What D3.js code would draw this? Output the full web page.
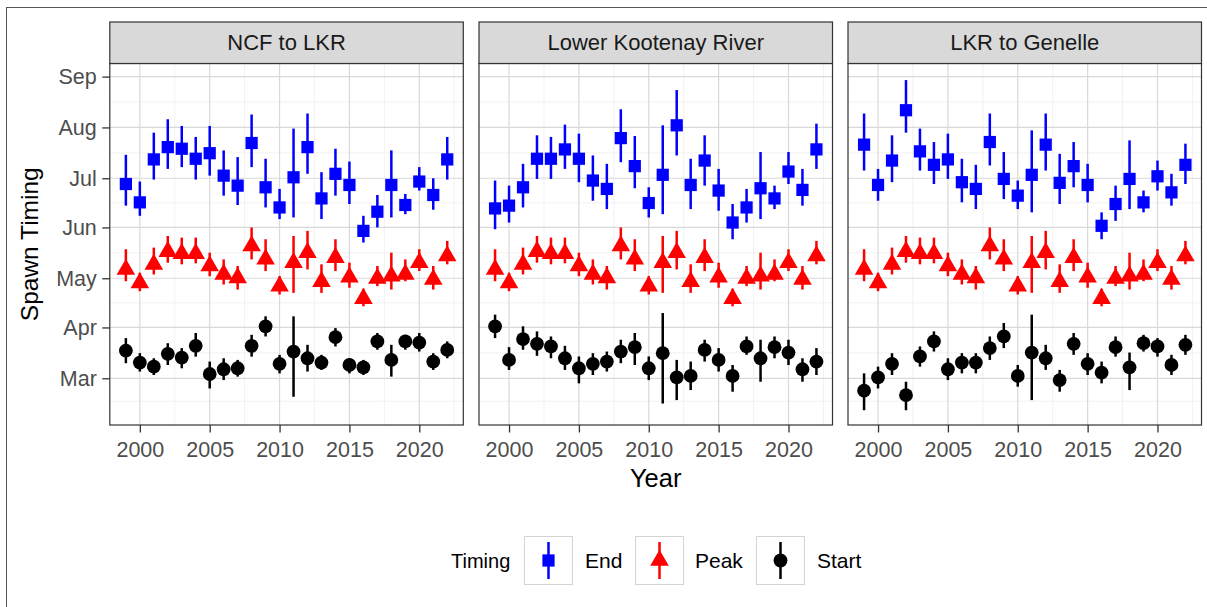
<!DOCTYPE html>
<html>
<head>
<meta charset="utf-8">
<script src="https://cdn.jsdelivr.net/npm/d3@7"></script>
<style>
  html, body { margin: 0; padding: 0; background: #fff; }
  svg { display: block; font-family: "Liberation Sans", Arial, Helvetica, sans-serif; }
</style>
</head>
<body>
<svg id="chart" width="1207" height="607"></svg>
<script>
// Spawn timing by reach: day of year for start, peak and end of spawning,
// each as [estimate, lower, upper].
const years = d3.range(1999, 2023);

const reaches = ["NCF to LKR", "Lower Kootenay River", "LKR to Genelle"];

const timings = ["End", "Peak", "Start"];

const monthLabels = ["Mar", "Apr", "May", "Jun", "Jul", "Aug", "Sep"];
const monthStarts = [60, 91, 121, 152, 182, 213, 244];
const yearTicks = [2000, 2005, 2010, 2015, 2020];

// Peak timing (shared by all three reaches)
const peak = [
  [126.4,138.7,119.2],[118.2,124.4,113.1],[129.5,139.7,123.3],[137.3,146.8,130.5],
  [136.0,145.8,129.5],[136.0,145.8,130.1],[128.5,136.6,122.3],[123.4,132.5,117.2],
  [121.3,128.5,114.1],[140.7,152.0,132.5],[132.6,144.8,125.4],[116.2,122.3,111.1],
  [130.5,146.8,112.1],[136.6,149.9,126.4],[118.9,129.5,112.1],[133.6,144.8,125.4],
  [121.7,130.5,115.2],[108.6,114.6,103.9],[120.9,128.5,116.2],[122.3,136.6,114.1],
  [123.4,132.5,119.2],[130.5,138.7,125.4],[120.3,128.5,114.1],[134.6,143.8,129.5]
];

// NCF to LKR
const ncfEnd = [
  [178.5,165.3,196.3],[167.3,159.1,180.0],[193.5,181.2,209.8],[201.0,187.7,218.0],
  [200.0,188.8,213.9],[193.9,181.2,207.2],[197.3,183.6,213.9],[183.6,171.4,199.0],
  [177.5,165.7,194.9],[203.5,188.8,220.9],[176.5,164.2,193.9],[164.2,157.1,175.5],
  [182.6,158.1,212.3],[201.0,184.7,221.5],[169.7,157.1,185.7],[184.7,171.4,200.0],
  [177.9,166.3,192.2],[149.9,142.8,159.1],[161.6,152.0,171.8],[177.9,158.1,199.0],
  [165.7,160.1,172.4],[180.0,174.5,188.8],[171.8,162.8,182.0],[193.5,181.2,207.2]
];
const ncfStart = [
  [76.9,69.2,84.5],[69.6,64.1,75.3],[67.1,62.0,72.2],[74.9,68.1,81.4],
  [72.6,66.1,78.4],[79.8,73.2,87.6],[62.6,53.8,70.2],[65.5,58.9,72.2],
  [66.1,61.0,71.2],[79.8,73.2,86.5],[91.7,85.5,97.8],[68.8,63.0,74.3],
  [76.3,48.7,97.8],[72.2,64.1,80.4],[69.6,65.1,74.3],[85.1,79.4,90.6],
  [68.1,63.0,72.2],[66.7,62.0,71.2],[82.5,77.4,87.6],[71.2,61.0,80.4],
  [82.5,77.4,86.5],[81.8,76.3,87.6],[70.2,65.1,75.3],[77.3,72.2,82.5]
];

// Lower Kootenay River
const lkrEnd = [
  [163.6,150.9,180.6],[165.3,155.0,177.5],[176.5,164.2,190.8],[193.9,181.6,208.2],
  [193.9,181.6,207.2],[199.6,187.7,214.7],[193.9,179.6,209.2],[180.6,168.3,195.9],
  [175.5,163.2,190.8],[206.5,191.8,224.1],[189.4,175.9,207.8],[166.9,158.1,176.5],
  [184.1,160.1,214.3],[214.3,195.9,235.8],[177.9,163.2,193.9],[192.8,177.5,208.2],
  [174.5,162.2,187.7],[155.0,144.8,166.3],[164.2,155.0,175.5],[175.9,157.1,198.0],
  [169.7,163.2,177.5],[186.1,178.5,198.0],[174.9,165.3,187.7],[199.6,187.7,215.3]
];
const lkrStart = [
  [91.7,84.5,98.8],[71.2,65.1,79.0],[83.9,77.4,91.7],[81.0,73.7,88.6],
  [79.4,72.2,85.5],[72.2,65.1,79.8],[66.1,56.9,73.3],[68.8,62.0,75.3],
  [70.2,64.1,76.3],[76.3,69.2,83.5],[79.0,68.1,87.6],[66.1,58.9,73.3],
  [75.3,44.6,99.8],[60.6,46.7,71.2],[61.4,52.8,70.2],[77.3,70.2,83.5],
  [71.2,64.1,78.4],[61.4,51.8,68.1],[79.4,74.3,85.5],[72.2,57.9,83.5],
  [79.0,72.2,85.5],[75.7,68.1,83.5],[65.5,57.9,72.2],[70.2,62.0,78.4]
];

// LKR to Genelle
const genEnd = [
  [202.5,186.7,221.5],[177.9,168.3,187.7],[192.8,179.6,208.2],[223.5,209.8,241.9],
  [198.4,186.7,212.3],[190.2,178.5,204.1],[193.5,181.6,209.2],[179.6,167.3,193.9],
  [175.5,163.2,190.2],[204.1,189.8,221.5],[181.6,169.3,198.0],[171.4,163.2,180.6],
  [184.1,161.2,211.2],[202.5,186.7,221.5],[179.2,166.3,196.9],[189.4,176.5,204.1],
  [177.9,167.3,190.8],[153.0,144.8,161.2],[166.3,156.0,177.5],[181.6,163.2,205.1],
  [167.3,161.2,174.5],[183.2,174.5,192.8],[173.4,165.3,184.7],[190.2,178.5,203.1]
];
const genStart = [
  [52.4,40.5,63.0],[60.6,53.8,67.1],[68.8,62.0,75.3],[49.7,40.5,57.9],
  [73.3,67.1,79.4],[82.5,76.3,88.6],[65.5,58.9,72.2],[69.6,63.0,75.3],
  [69.6,63.0,75.3],[78.4,71.2,85.5],[85.5,78.4,93.7],[61.4,54.9,68.1],
  [75.7,46.7,98.8],[72.2,65.1,80.4],[58.9,51.8,65.1],[81.0,74.3,87.6],
  [68.8,62.0,75.3],[63.4,56.9,70.2],[79.0,73.2,85.5],[66.7,52.8,75.7],
  [81.4,76.3,86.5],[79.4,73.2,84.5],[68.1,62.0,74.3],[80.4,74.3,86.5]
];

const panelData = [
  { End: ncfEnd, Peak: peak, Start: ncfStart },
  { End: lkrEnd, Peak: peak, Start: lkrStart },
  { End: genEnd, Peak: peak, Start: genStart }
];

const colors = { End: "#0000ff", Peak: "#ff0000", Start: "#000000" };

// ---- layout ----
const svg = d3.select("#chart");
const panelX = [109.8, 479, 848];
const panelW = 353.5;
const stripTop = 22, stripBottom = 63.5;
const plotTop = 63.5, plotBottom = 425;
const tickFont = 21.5;

const y = d3.scaleLinear().domain([31.5, 252]).range([plotBottom, plotTop]);

// frame lines around the figure
svg.append("line").attr("x1", 6.5).attr("x2", 6.5).attr("y1", 7).attr("y2", 607)
  .attr("stroke", "#555").attr("stroke-width", 1);
svg.append("line").attr("x1", 6).attr("x2", 1207).attr("y1", 7.5).attr("y2", 7.5)
  .attr("stroke", "#555").attr("stroke-width", 1);

// point symbols, sized like ggplot shapes 15 / 17 / 19
const R = 6.9;
const shapeFor = {
  End: d3.symbol().type(d3.symbolSquare).size(Math.pow(2 * R * 0.886, 2)),
  Peak: (function () {
    const r = 1.555 * R, xc = 1.347 * R, yc = 0.778 * R;
    return () => `M0,${-r}L${xc},${yc}L${-xc},${yc}Z`;
  })(),
  Start: d3.symbol().type(d3.symbolCircle).size(Math.PI * R * R)
};

const minorDays = [46, 75.5, 106, 136.5, 167, 197.5, 228.5];
const minorYears = [2002.5, 2007.5, 2012.5, 2017.5, 2022.5];

reaches.forEach((name, i) => {
  const x0 = panelX[i];
  const x = d3.scaleLinear().domain([1997.85, 2023.15]).range([x0, x0 + panelW]);
  const g = svg.append("g");

  // grid
  g.selectAll(".minY").data(minorDays).enter().append("line")
    .attr("x1", x0).attr("x2", x0 + panelW)
    .attr("y1", d => y(d)).attr("y2", d => y(d))
    .attr("stroke", "#ebebeb").attr("stroke-width", 0.7);
  g.selectAll(".minX").data(minorYears).enter().append("line")
    .attr("y1", plotTop).attr("y2", plotBottom)
    .attr("x1", d => x(d)).attr("x2", d => x(d))
    .attr("stroke", "#ebebeb").attr("stroke-width", 0.7);
  g.selectAll(".majY").data(monthStarts).enter().append("line")
    .attr("x1", x0).attr("x2", x0 + panelW)
    .attr("y1", d => y(d)).attr("y2", d => y(d))
    .attr("stroke", "#d9d9d9").attr("stroke-width", 1.2);
  g.selectAll(".majX").data(yearTicks).enter().append("line")
    .attr("y1", plotTop).attr("y2", plotBottom)
    .attr("x1", d => x(d)).attr("x2", d => x(d))
    .attr("stroke", "#d9d9d9").attr("stroke-width", 1.2);

  // point ranges
  const data = panelData[i];
  timings.forEach(t => {
    const rows = data[t].map((v, k) => ({ year: years[k], mid: v[0], lo: v[1], hi: v[2] }));
    const s = g.append("g");
    s.selectAll("line").data(rows).enter().append("line")
      .attr("x1", d => x(d.year)).attr("x2", d => x(d.year))
      .attr("y1", d => y(d.lo)).attr("y2", d => y(d.hi))
      .attr("stroke", colors[t]).attr("stroke-width", 2.5);
    s.selectAll("path").data(rows).enter().append("path")
      .attr("d", shapeFor[t])
      .attr("transform", d => `translate(${x(d.year)},${y(d.mid)})`)
      .attr("fill", colors[t]);
  });

  // panel border
  g.append("rect").attr("x", x0).attr("y", plotTop).attr("width", panelW)
    .attr("height", plotBottom - plotTop)
    .attr("fill", "none").attr("stroke", "#333").attr("stroke-width", 1.2);

  // strip
  g.append("rect").attr("x", x0).attr("y", stripTop).attr("width", panelW)
    .attr("height", stripBottom - stripTop)
    .attr("fill", "#d9d9d9").attr("stroke", "#333").attr("stroke-width", 1.2);
  g.append("text").attr("x", x0 + panelW / 2).attr("y", 50)
    .attr("text-anchor", "middle").attr("font-size", 22).attr("fill", "#1a1a1a")
    .text(name);

  // x axis
  const xAxis = d3.axisBottom(x).tickValues(yearTicks).tickFormat(d3.format("d"))
    .tickSize(7.5).tickPadding(9);
  const ax = g.append("g").attr("transform", `translate(0,${plotBottom})`).call(xAxis);
  ax.select(".domain").remove();
  ax.selectAll(".tick line").attr("stroke", "#333").attr("stroke-width", 1.3);
  ax.selectAll(".tick text").attr("font-size", tickFont).attr("fill", "#4d4d4d")
    .attr("font-family", "Liberation Sans, Arial, sans-serif");
});

// y axis on the first panel
const yAxis = d3.axisLeft(y).tickValues(monthStarts)
  .tickFormat((d, k) => monthLabels[k]).tickSize(7.5).tickPadding(5.5);
const ay = svg.append("g").attr("transform", `translate(${panelX[0]},0)`).call(yAxis);
ay.select(".domain").remove();
ay.selectAll(".tick line").attr("stroke", "#333").attr("stroke-width", 1.3);
ay.selectAll(".tick text").attr("font-size", tickFont).attr("fill", "#4d4d4d")
  .attr("font-family", "Liberation Sans, Arial, sans-serif");

// axis titles
svg.append("text").attr("x", (panelX[0] + panelX[2] + panelW) / 2).attr("y", 487)
  .attr("text-anchor", "middle").attr("font-size", 25.5).attr("fill", "#000").text("Year");
svg.append("text").attr("transform", `translate(38,${(plotTop + plotBottom) / 2}) rotate(-90)`)
  .attr("text-anchor", "middle").attr("font-size", 24.5).attr("fill", "#000").text("Spawn Timing");

// legend
const legend = svg.append("g");
legend.append("text").attr("x", 451).attr("y", 568).attr("font-size", 20)
  .attr("fill", "#000").text("Timing");
const keyX = [524, 635, 756];
const labelX = [585, 695, 817];
const keyY = 536, keyS = 49;
timings.forEach((t, k) => {
  const kg = legend.append("g");
  kg.append("rect").attr("x", keyX[k] + 0.5).attr("y", keyY + 0.5)
    .attr("width", keyS - 1).attr("height", keyS - 1)
    .attr("fill", "#fff").attr("stroke", "#d4d4d4").attr("stroke-width", 1);
  const cx = keyX[k] + keyS / 2, cy = keyY + keyS / 2;
  kg.append("line").attr("x1", cx).attr("x2", cx).attr("y1", keyY + 6).attr("y2", keyY + keyS - 6)
    .attr("stroke", colors[t]).attr("stroke-width", 2.5);
  kg.append("path").attr("d", shapeFor[t]).attr("transform", `translate(${cx},${cy})`)
    .attr("fill", colors[t]);
  legend.append("text").attr("x", labelX[k]).attr("y", 568).attr("font-size", 21)
    .attr("fill", "#000").text(t);
});
</script>
</body>
</html>
